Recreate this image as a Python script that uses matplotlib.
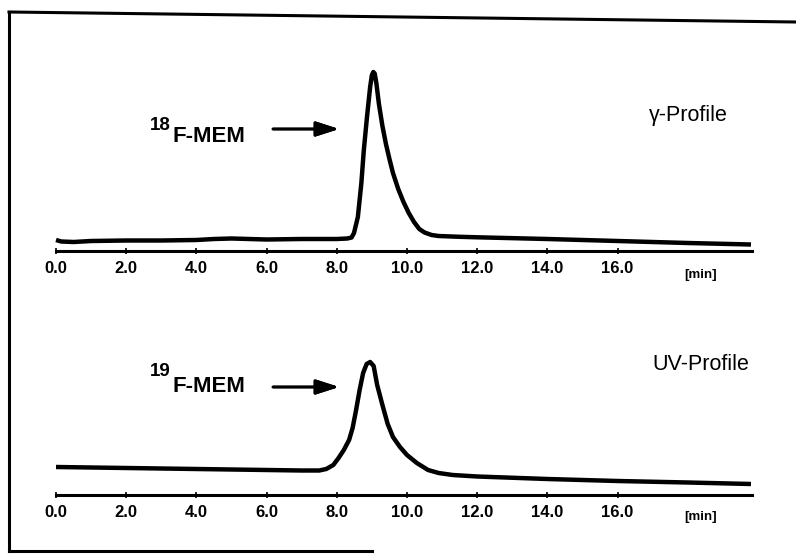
import matplotlib
matplotlib.use("Agg")
from matplotlib import pyplot as plt
from matplotlib.lines import Line2D

plt.rcParams['font.family'] = ['Liberation Sans', 'DejaVu Sans']

# gamma trace (radioactivity), retention time in min, signal in arbitrary units
gamma_t = [0.0, 0.15, 0.5, 1.0, 2.0, 3.0, 4.0, 4.5, 5.0, 5.5, 6.0, 7.0, 7.5, 8.0,
           8.3, 8.42, 8.49, 8.6, 8.7, 8.77, 8.86, 8.95, 9.0, 9.04, 9.08, 9.13,
           9.2, 9.3, 9.4, 9.5, 9.6, 9.75, 9.9, 10.05, 10.2, 10.35, 10.5,
           10.7, 10.9, 11.5, 12.0, 14.0, 16.0, 18.0, 19.8]
gamma_y = [11, 9.5, 9, 10, 10.5, 10.5, 11, 12, 12.5, 12, 11.5, 12, 12, 12,
           12.5, 13.5, 18, 34, 68, 101, 134, 164, 176, 179, 177.5, 167,
           147, 125, 107, 92, 78, 62, 49, 38, 29, 22, 18.5,
           16, 15, 14.2, 13.7, 12, 10, 8, 6.5]

# UV trace (absorbance), arbitrary units
uv_t = [0.0, 1.0, 2.0, 3.0, 4.0, 5.0, 6.0, 7.0, 7.5, 7.7, 7.9, 8.05, 8.2, 8.35,
        8.45, 8.55, 8.65, 8.75, 8.85, 8.95, 9.05, 9.15, 9.3, 9.45, 9.6, 9.8,
        10.0, 10.28, 10.6, 10.9, 11.3, 12.0, 14.0, 16.0, 18.0, 19.8]
uv_y = [28, 27.5, 27, 26.5, 26, 25.5, 25, 24.5, 24.5, 26, 30, 37, 45, 55,
        67, 85, 105, 122, 131, 133, 129, 110, 90, 71, 58, 48,
        40, 32, 25, 22, 20, 18.5, 16, 14, 12.5, 11]

ticks = [0, 2, 4, 6, 8, 10, 12, 14, 16]
tick_labels = ["0.0", "2.0", "4.0", "6.0", "8.0", "10.0", "12.0", "14.0", "16.0"]

W, H = 796, 555
fig = plt.figure(figsize=(W / 100, H / 100), dpi=100)


def px_axes(x0, y0, x1, y1):
    # axes rectangle given in pixel coords (origin top-left)
    return fig.add_axes([x0 / W, 1 - y1 / H, (x1 - x0) / W, (y1 - y0) / H])


def setup(ax, ymax):
    ax.set_xlim(0, (752 - 56) / 35.1)
    ax.set_ylim(0, ymax)
    for s in ["top", "right", "left"]:
        ax.spines[s].set_visible(False)
    ax.spines["bottom"].set_linewidth(2.2)
    ax.set_yticks([])
    ax.set_xticks(ticks)
    ax.set_xticklabels(tick_labels, fontsize=12, fontweight="bold")
    ax.tick_params(axis="x", direction="inout", length=5, width=1.2, pad=5)
    ax.patch.set_alpha(0)


ax1 = px_axes(56, 60, 752, 251)
setup(ax1, 191)
ax1.plot(gamma_t, gamma_y, color="black", lw=3.2, solid_capstyle="butt",
         solid_joinstyle="round", clip_on=False)
ax1.text(18.35, -24, "[min]", fontsize=9.5, fontweight="bold", ha="center", va="center")

ax2 = px_axes(56, 340, 752, 495)
setup(ax2, 155)
ax2.plot(uv_t, uv_y, color="black", lw=3.2, solid_capstyle="butt",
         solid_joinstyle="round", clip_on=False)
ax2.text(18.35, -22, "[min]", fontsize=9.5, fontweight="bold", ha="center", va="center")

# labels and arrows, figure pixel coords
def fig_text(x, y, s, **kw):
    fig.text(x / W, 1 - y / H, s, **kw)


for sup, y_sup, y_main in (("18", 125, 137), ("19", 372, 386)):
    fig_text(171, y_sup, sup, fontsize=13.5, fontweight="bold", ha="right", va="center")
    fig_text(172, y_main, "F-MEM", fontsize=16, fontweight="bold", ha="left", va="center")

fig_text(688, 116, "\u03b3-Profile", fontsize=15.5, ha="center", va="center")
fig_text(701, 365, "UV-Profile", fontsize=15.5, ha="center", va="center")

for y in (129, 387):
    fig.add_artist(plt.annotate(
        "", xy=(339 / W, 1 - y / H), xytext=(273 / W, 1 - y / H),
        xycoords="figure fraction",
        arrowprops=dict(arrowstyle="-|>,head_length=1.4,head_width=0.45",
                        color="black", lw=2, shrinkA=0, shrinkB=0)))

# scanned page frame
fig.add_artist(Line2D([9 / W, 9 / W], [1 - 12 / H, 1 - 551 / H], color="black", lw=2.2))
fig.add_artist(Line2D([9 / W, 1.0], [1 - 12 / H, 1 - 22 / H], color="black", lw=2.2))
fig.add_artist(Line2D([9 / W, 372 / W], [1 - 551 / H, 1 - 551 / H], color="black", lw=2.2))

fig.savefig("out.png", dpi=100)
